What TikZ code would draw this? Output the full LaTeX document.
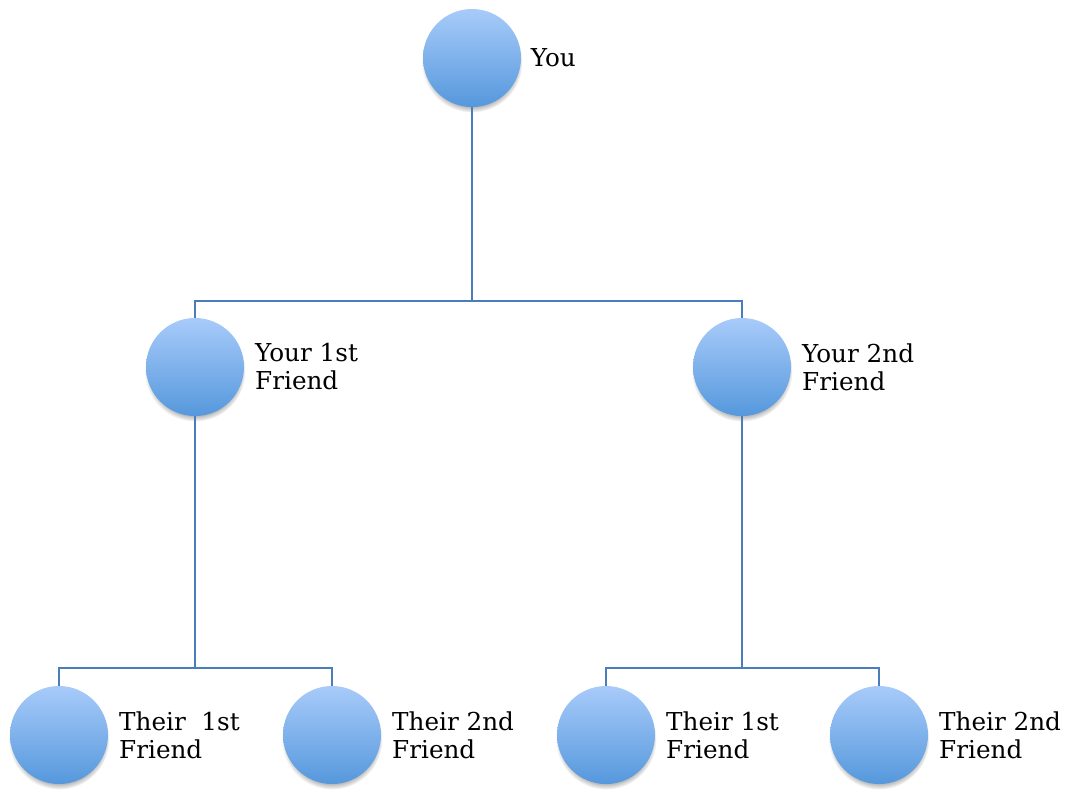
\documentclass[tikz,border=0pt]{standalone}
\usepackage{fontspec}
\setmainfont{DejaVu Serif}
\usetikzlibrary{shadows}

\definecolor{bolaclara}{HTML}{A8CBFA}
\definecolor{bolaoscura}{HTML}{5598DC}
\definecolor{linea}{HTML}{4A7EBB}

\tikzset{
  bola/.style={circle, minimum size=73.5pt, inner sep=0pt, draw=none,
    top color=bolaclara, bottom color=bolaoscura,
    circular drop shadow={shadow xshift=0pt, shadow yshift=-3pt, shadow scale=1.03, opacity=0.7}},
  rotulo/.style={anchor=west, align=left, inner sep=0pt, font=\fontsize{18.5}{21}\selectfont},
  rama/.style={draw=linea, line width=1.5pt}
}

\begin{document}
\begin{tikzpicture}[x=0.75pt, y=-0.75pt]
\useasboundingbox (0,0) rectangle (1069,789);

% Nivel superior
	\node[bola] (tu) at (472,58) {};
	\node[rotulo] (ttu) at ([xshift=7pt]tu.east) {You};

% Amigos
	\node[bola] (a1) at (195,367) {};
	\node[bola] (a2) at (742,367) {};
	\node[rotulo] (ta1) at ([xshift=8pt]a1.east) {Your 1st\\Friend};
	\node[rotulo] (ta2) at ([xshift=8pt]a2.east) {Your 2nd\\Friend};

% Amigos de los amigos
	\foreach \x/\n/\t in {59/b1/{Their\ \ 1st}, 332/b2/{Their 2nd},
	                     606/b3/{Their 1st}, 879/b4/{Their 2nd}}
	{
		\node[bola] (\n) at (\x,735) {};
		\node[rotulo] (t\n) at ([xshift=8pt]\n.east) {\t\\Friend};
	}

% Ramas
	\coordinate (m0) at (472,301);
	\coordinate (m1) at (195,668);
	\coordinate (m2) at (742,668);

	\draw[rama] (tu.south) -- (m0);
	\draw[rama] (a1.north) |- (m0) -| (a2.north);

	\draw[rama] (a1.south) -- (m1);
	\draw[rama] (b1.north) |- (m1) -| (b2.north);

	\draw[rama] (a2.south) -- (m2);
	\draw[rama] (b3.north) |- (m2) -| (b4.north);
\end{tikzpicture}
\end{document}
